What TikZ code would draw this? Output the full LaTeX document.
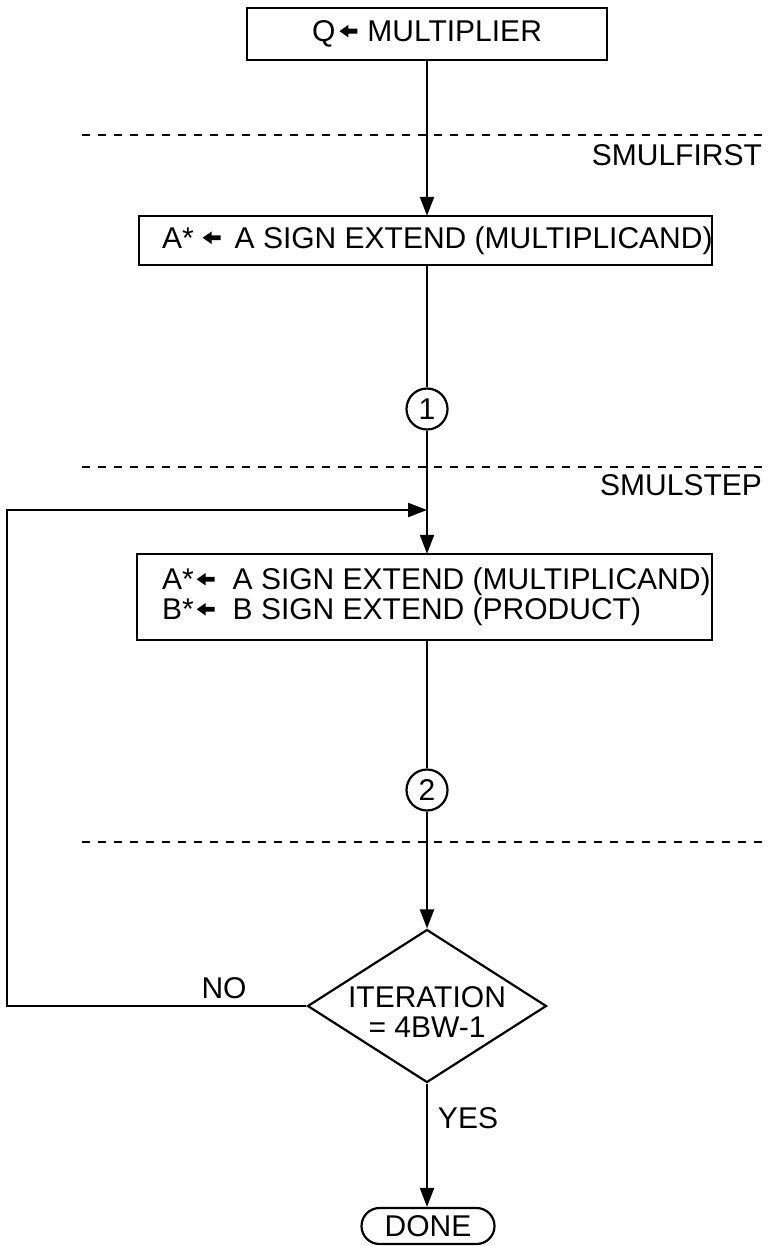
\documentclass[tikz,border=0pt]{standalone}
\usepackage{fontspec}
\setmainfont{Liberation Sans}
\usetikzlibrary{arrows.meta,shapes.geometric,shapes.misc}
\newcommand{\larr}{\tikz[baseline=0pt]{\fill (0,0.35em) -- (0.3em,0.56em) -- (0.3em,0.43em) -- (0.6em,0.43em) -- (0.6em,0.27em) -- (0.3em,0.27em) -- (0.3em,0.14em) -- cycle;}}
\begin{document}
\begin{tikzpicture}[x=1pt,y=-1pt, line width=2.2pt,
  every node/.style={font=\fontsize{30}{30}\selectfont},
  box/.style={draw, rectangle, inner ysep=0pt},
  conn/.style={circle, draw, minimum size=41pt, inner sep=0pt},
  sepline/.style={line width=1.6pt, dash pattern=on 8pt off 8pt},
  arr/.style={-{Triangle[length=19pt,width=14pt]}},
  lbl/.style={inner sep=0pt}]

\useasboundingbox (0,0) rectangle (770,1246);

% separators
\draw[sepline] (82,135) -- (770,135);
\draw[sepline] (82,467) -- (770,467);
\draw[sepline] (82,842) -- (770,842);
\node[lbl, anchor=east] (sf) at (763,155) {SMULFIRST};
\node[lbl, anchor=east] (ss) at (763,485) {SMULSTEP};

% boxes
\node[box, minimum width=360pt, minimum height=52pt] (b1) at (427,34)
  {Q\hspace{4pt}\larr\hspace{10pt}MULTIPLIER};
\node[box, inner xsep=23pt, minimum height=49pt] (b2) at (425.5,240.5)
  {\makebox[527pt][l]{A*\hspace{9pt}\larr\hspace{14pt}A SIGN EXTEND (MULTIPLICAND)}};
\node[box, inner xsep=25pt, minimum height=86pt, align=left] (b3) at (424.5,597)
  {\makebox[525pt][l]{A*\hspace{3pt}\larr\hspace{18pt}A SIGN EXTEND (MULTIPLICAND)}\\
   \makebox[525pt][l]{B*\hspace{3pt}\larr\hspace{18pt}B SIGN EXTEND (PRODUCT)}};

% connector circles
\node[conn] (c1) at (427,409) {1};
\node[conn] (c2) at (427,790) {2};

% decision
\node[draw, diamond, inner sep=0pt, minimum width=239pt, minimum height=153pt, align=center] (dia) at (427,1006)
  {\rule{0pt}{32pt}\makebox[0pt]{ITERATION}\\\makebox[0pt]{= 4BW-1}};

\node[draw, rounded rectangle, inner sep=0pt, minimum width=133pt, minimum height=36pt] (done) at (428,1226) {DONE};

\node[lbl] (no) at (224,988) {NO};
\node[lbl] (yes) at (468,1118) {YES};

% flow
\draw[arr] (b1.south) -- (b1.south |- b2.north);
\draw (c1.north |- b2.south) -- (c1.north);
\draw[arr] (c1.south) -- (c1.south |- b3.north);
\draw (c2.north |- b3.south) -- (c2.north);
\draw[arr] (c2.south) -- (dia.north);
\draw[arr] (dia.south) -- (dia.south |- done.north);
\coordinate (j) at (427,510);
\draw[arr] (dia.west) -| (7,510) -- (j);
\end{tikzpicture}
\end{document}
